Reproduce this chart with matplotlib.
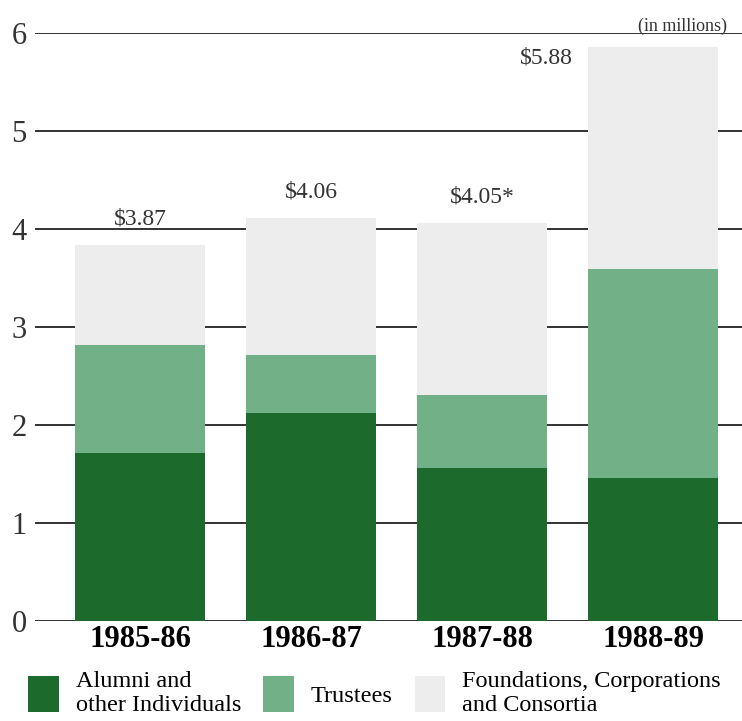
import matplotlib.pyplot as plt
import numpy as np

years = ['1985-86', '1986-87', '1987-88', '1988-89']
alumni = [1.71, 2.12, 1.56, 1.46]
trustees = [1.11, 0.59, 0.75, 2.13]
foundations = [1.02, 1.40, 1.75, 2.27]
totals = ['$3.87', '$4.06', '$4.05*', '$5.88']

dark = '#1d6a2d'
mid = '#72b088'
light = '#ecedec'

plt.rcParams['font.family'] = ['Liberation Serif', 'DejaVu Serif']

fig = plt.figure(figsize=(7.42, 7.21), dpi=100)
ax = fig.add_axes([35/742, 100/721, 707/742, 588/721])

x = np.arange(len(years))
w = 0.76
b1 = ax.bar(x, alumni, w, color=dark, zorder=2)
b2 = ax.bar(x, trustees, w, bottom=alumni, color=mid, zorder=2)
bot3 = np.array(alumni) + np.array(trustees)
b3 = ax.bar(x, foundations, w, bottom=bot3, color=light, zorder=2)

for v in range(0, 7):
    ax.axhline(v, color='#222222', lw=1.3, zorder=1)

tops = bot3 + np.array(foundations)
for i, t in enumerate(totals):
    if i == 3:
        ax.text(x[i] - w/2 - 0.09, tops[i] - 0.12, t, ha='right', va='center', fontsize=17, color='#333333')
    else:
        ax.text(x[i], tops[i] + 0.16, t, ha='center', va='bottom', fontsize=17, color='#333333')

ax.set_xlim(-0.614, 3.52)
ax.set_ylim(0, 6)
ax.set_yticks(range(0, 7))
ax.tick_params(axis='y', length=0, labelsize=22, pad=6, labelcolor='#333333')
ax.set_xticks(x)
ax.set_xticklabels(years, fontsize=22, fontweight='bold')
ax.tick_params(axis='x', length=0, pad=3)
for s in ax.spines.values():
    s.set_visible(False)

fig.text(0.98, 0.963, '(in millions)', ha='right', va='center', fontsize=13, color='#333333')

fig.legend([b1, b2, b3],
           ['Alumni and\nother Individuals', 'Trustees', 'Foundations, Corporations\nand Consortia'],
           loc='lower left', bbox_to_anchor=(0.008, -0.024), ncol=3, frameon=False,
           fontsize=17.5, handlelength=1.27, handleheight=1.9, handletextpad=0.7,
           columnspacing=0.9, labelspacing=0)

fig.savefig('out.png', dpi=100)
